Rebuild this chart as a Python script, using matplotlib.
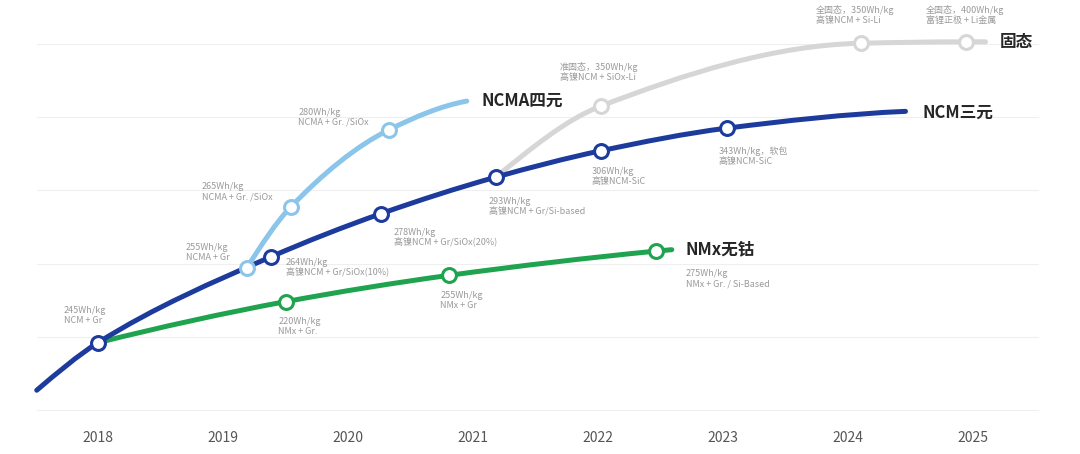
import matplotlib.pyplot as plt
from matplotlib.path import Path
from matplotlib.patches import PathPatch

plt.rcParams['font.family'] = ['Noto Sans CJK SC', 'DejaVu Sans']

# data: x in years, y in arbitrary "level" units (gridlines at 0..5)
years = [2018, 2019, 2020, 2021, 2022, 2023, 2024, 2025]

ncm_x = [2017.51, 2018.0, 2019.38, 2020.26, 2021.18, 2022.02, 2023.03, 2024.46]
ncm_y = [0.27, 0.92, 2.09, 2.68, 3.18, 3.54, 3.85, 4.08]
ncm_labels = ["245Wh/kg\nNCM + Gr",
              "264Wh/kg\n高镍NCM + Gr/SiOx(10%)",
              "278Wh/kg\n高镍NCM + Gr/SiOx(20%)",
              "293Wh/kg\n高镍NCM + Gr/Si-based",
              "306Wh/kg\n高镍NCM-SiC",
              "343Wh/kg，软包\n高镍NCM-SiC"]

ncma_x = [2019.19, 2019.54, 2020.33, 2020.95]
ncma_y = [1.94, 2.77, 3.83, 4.22]
ncma_labels = ["255Wh/kg\nNCMA + Gr",
               "265Wh/kg\nNCMA + Gr. /SiOx",
               "280Wh/kg\nNCMA + Gr. /SiOx"]

nmx_x = [2018.0, 2019.50, 2020.81, 2022.46, 2022.59]
nmx_y = [0.92, 1.48, 1.84, 2.17, 2.19]
nmx_labels = ["220Wh/kg\nNMx + Gr.",
              "255Wh/kg\nNMx + Gr",
              "275Wh/kg\nNMx + Gr. / Si-Based"]

ss_x = [2021.18, 2022.02, 2024.10, 2024.94, 2025.10]
ss_y = [3.18, 4.15, 5.01, 5.03, 5.03]
ss_labels = ["准固态，350Wh/kg\n高镍NCM + SiOx-Li",
             "全固态，350Wh/kg\n高镍NCM + Si-Li",
             "全固态，400Wh/kg\n富锂正极 + Li金属"]

# series: (x, y, marker slice, labels, label offsets px, name, colour)
series = {
    'ss': (ss_x, ss_y, slice(1, 4), ss_labels,
           [(-41, -44), (-45, -38), (-40, -37)], '固态', '#d6d6d6'),
    'nmx': (nmx_x, nmx_y, slice(1, 4), nmx_labels,
            [(-7, 15), (-9, 16), (30, 18)], 'NMx无钴', '#1fa34f'),
    'ncm': (ncm_x, ncm_y, slice(1, 7), ncm_labels,
            [(-34, -37), (15, 1), (13, 14), (-7, 20), (-9, 16), (-8, 18)],
            'NCM三元', '#1c3b9c'),
    'ncma': (ncma_x, ncma_y, slice(0, 3), ncma_labels,
             [(-61, -25), (-89, -25), (-91, -22)], 'NCMA四元', '#8bc5ea'),
}
name_offsets = {'ss': (14, 0), 'nmx': (14, 0), 'ncm': (17, -1), 'ncma': (15, 0)}


def smooth_path(xs, ys):
    # monotone cubic (pchip-style tangents) drawn as bezier segments
    n = len(xs)
    h = [xs[i + 1] - xs[i] for i in range(n - 1)]
    d = [(ys[i + 1] - ys[i]) / h[i] for i in range(n - 1)]
    m = [0.0] * n
    for i in range(1, n - 1):
        if d[i - 1] * d[i] > 0:
            w1 = 2 * h[i] + h[i - 1]
            w2 = h[i] + 2 * h[i - 1]
            m[i] = (w1 + w2) / (w1 / d[i - 1] + w2 / d[i])
    if n > 2:
        m[0] = ((2 * h[0] + h[1]) * d[0] - h[0] * d[1]) / (h[0] + h[1])
        if m[0] * d[0] <= 0:
            m[0] = 0.0
        m[-1] = ((2 * h[-1] + h[-2]) * d[-1] - h[-1] * d[-2]) / (h[-1] + h[-2])
        if m[-1] * d[-1] <= 0:
            m[-1] = 0.0
    else:
        m = [d[0], d[0]]
    verts = [(xs[0], ys[0])]
    codes = [Path.MOVETO]
    for i in range(n - 1):
        t = h[i] / 3
        verts += [(xs[i] + t, ys[i] + m[i] * t),
                  (xs[i + 1] - t, ys[i + 1] - m[i + 1] * t),
                  (xs[i + 1], ys[i + 1])]
        codes += [Path.CURVE4] * 3
    return Path(verts, codes)


fig = plt.figure(figsize=(10.8, 4.54), dpi=100)
ax = fig.add_axes([0, 0, 1, 1])
ax.set_xlim(2017.216, 2025.856)
ax.set_ylim(-0.601, 5.601)
ax.axis('off')

# gridlines
for lvl in range(6):
    ax.plot([2017.51, 2025.52], [lvl, lvl], color='#efefef', lw=0.8, zorder=0)

for yr in years:
    ax.text(yr, -0.38, str(yr), ha='center', va='center', fontsize=10,
            color='#555555')

# lines
for z, key in enumerate(['ss', 'nmx', 'ncm', 'ncma']):
    xs, ys, sl, labels, offs, name, col = series[key]
    patch = PathPatch(smooth_path(xs, ys), facecolor='none', edgecolor=col,
                      lw=3.6, capstyle='round', zorder=2 + z)
    ax.add_patch(patch)
    ax.annotate(name, (xs[-1], ys[-1]), xytext=name_offsets[key],
                textcoords='offset pixels', ha='left', va='center',
                fontsize=12, fontweight='bold', color='#262626')

# markers and labels
for z, key in enumerate(['ss', 'nmx', 'ncma', 'ncm']):
    xs, ys, sl, labels, offs, name, col = series[key]
    ax.plot(xs[sl], ys[sl], linestyle='none', marker='o', markersize=10,
            markerfacecolor='white', markeredgecolor=col,
            markeredgewidth=2.2, zorder=10 + z)
    for (px, py), txt, (dx, dy) in zip(zip(xs[sl], ys[sl]), labels, offs):
        ax.annotate(txt, (px, py), xytext=(dx, -dy),
                    textcoords='offset pixels', ha='left', va='top',
                    fontsize=6.5, color='#9a9a9a', linespacing=1.15)

plt.savefig('out.png', dpi=100)
